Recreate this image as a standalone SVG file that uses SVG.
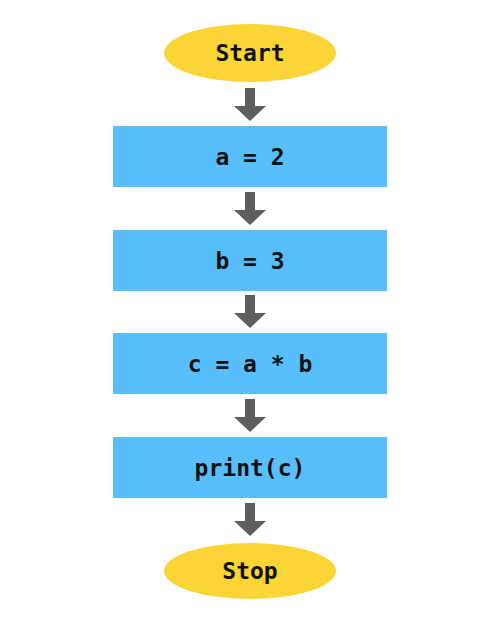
<svg xmlns="http://www.w3.org/2000/svg" width="500" height="625" viewBox="0 0 500 625">
<defs>
<style>
.term{fill:#FBD536;}
.proc{fill:#58BEFC;}
.lbl{font-family:"DejaVu Sans Mono","Liberation Mono",monospace;font-weight:bold;font-size:23px;fill:#111;text-anchor:middle;}
.arr{fill:#5E5E5E;}
</style>
<path id="arrow" d="M245,0 H255 V18 H266 L250,33 L234,18 H245 Z"/>
</defs>
<rect width="500" height="625" fill="#fff"/>
<g id="connectors" class="arr">
<use href="#arrow" y="88"/>
<use href="#arrow" y="192"/>
<use href="#arrow" y="295"/>
<use href="#arrow" y="399"/>
<use href="#arrow" y="503"/>
</g>
<g id="start">
<ellipse class="term" cx="250" cy="53" rx="86" ry="29"/>
<text class="lbl" x="250" y="61">Start</text>
</g>
<g id="a2">
<rect class="proc" x="113" y="126" width="274" height="61"/>
<text class="lbl" x="250" y="165">a = 2</text>
</g>
<g id="b3">
<rect class="proc" x="113" y="230" width="274" height="61"/>
<text class="lbl" x="250" y="269">b = 3</text>
</g>
<g id="cab">
<rect class="proc" x="113" y="333" width="274" height="61"/>
<text class="lbl" x="250" y="372">c = a * b</text>
</g>
<g id="printc">
<rect class="proc" x="113" y="437" width="274" height="61"/>
<text class="lbl" x="250" y="476">print(c)</text>
</g>
<g id="stop">
<ellipse class="term" cx="250" cy="571" rx="86" ry="28"/>
<text class="lbl" x="250" y="579">Stop</text>
</g>
</svg>
